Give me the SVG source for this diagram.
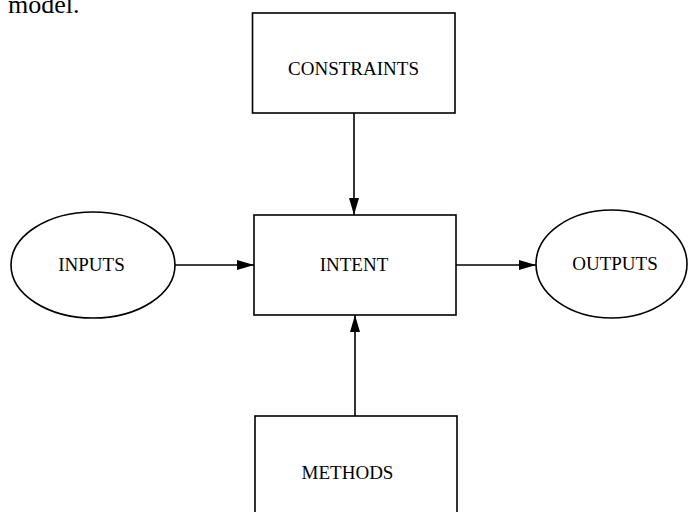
<svg xmlns="http://www.w3.org/2000/svg" width="688" height="512" viewBox="0 0 688 512">
<style>
.n{fill:#fff;stroke:#000;stroke-width:1.6}
.t{font-family:"Liberation Serif","Times New Roman",serif;font-size:19px;fill:#000;text-anchor:middle}
.c{stroke:#000;stroke-width:1.6;fill:none}
</style>
<defs>
<marker id="ah" viewBox="0 0 17 10" refX="17" refY="5" markerWidth="17" markerHeight="10" markerUnits="userSpaceOnUse" orient="auto">
<path d="M0,0 L17,5 L0,10 Z" fill="#000"/>
</marker>
</defs>
<rect width="688" height="512" fill="#fff"/>
<text x="8" y="13" style="font-family:'Liberation Serif','Times New Roman',serif;font-size:26px">model.</text>
<g id="connectors">
<line class="c" x1="354" y1="113" x2="354" y2="215" marker-end="url(#ah)"/>
<line class="c" x1="175" y1="265" x2="254" y2="265" marker-end="url(#ah)"/>
<line class="c" x1="456" y1="265" x2="536" y2="265" marker-end="url(#ah)"/>
<line class="c" x1="355" y1="416" x2="355" y2="315" marker-end="url(#ah)"/>
</g>
<g id="constraints">
<rect class="n" x="252.5" y="13" width="202.5" height="100"/>
<text class="t" x="353.5" y="75">CONSTRAINTS</text>
</g>
<g id="intent">
<rect class="n" x="254" y="215" width="202" height="100"/>
<text class="t" x="354" y="271">INTENT</text>
</g>
<g id="inputs">
<ellipse class="n" cx="93" cy="265" rx="82" ry="53"/>
<text class="t" x="91.5" y="271">INPUTS</text>
</g>
<g id="outputs">
<ellipse class="n" cx="611.5" cy="264" rx="75.5" ry="54"/>
<text class="t" x="615" y="270">OUTPUTS</text>
</g>
<g id="methods">
<rect class="n" x="255" y="416" width="202" height="110"/>
<text class="t" x="347.5" y="479">METHODS</text>
</g>
</svg>
